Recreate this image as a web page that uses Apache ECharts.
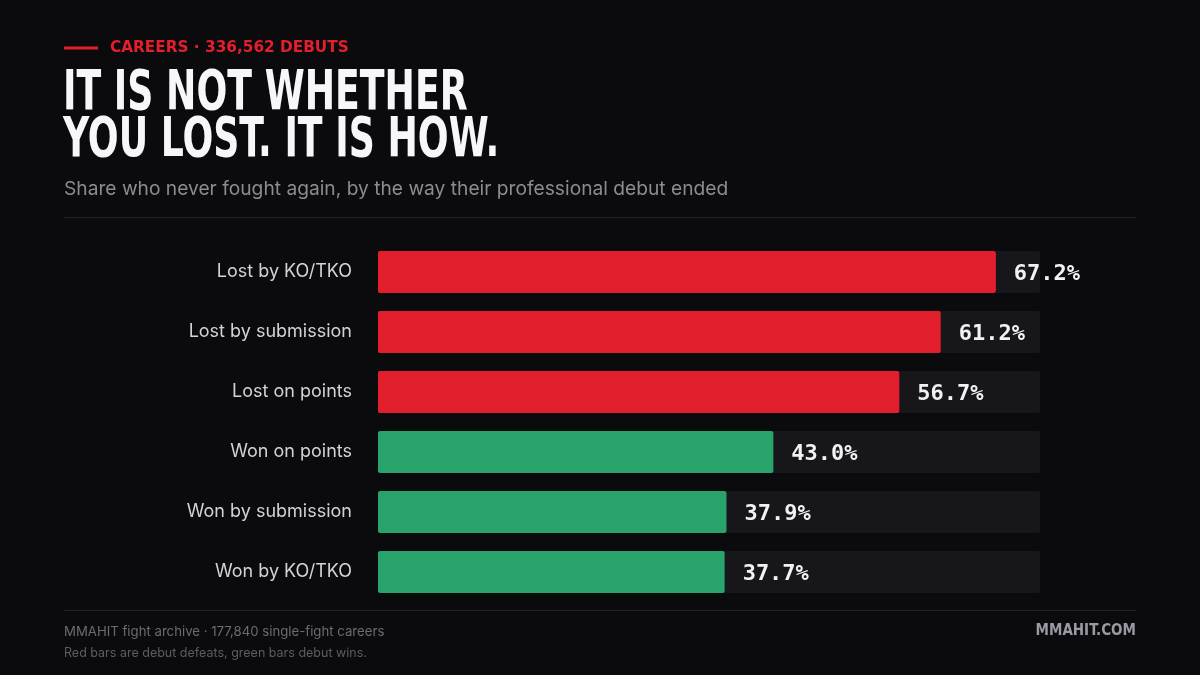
<!DOCTYPE html>
<html>
<head>
<meta charset="utf-8">
<script src="https://cdn.jsdelivr.net/npm/echarts@6/dist/echarts.min.js"></script>
<style>
html,body{margin:0;padding:0;background:#0b0b0e;}
#chart{width:1200px;height:675px;}
</style>
</head>
<body>
<div id="chart"></div>
<script>
const categories = ['Lost by KO/TKO','Lost by submission','Lost on points','Won on points','Won by submission','Won by KO/TKO'];
const values = [67.2, 61.2, 56.7, 43.0, 37.9, 37.7];
const outcome = ['loss','loss','loss','win','win','win'];
const axisMax = 72;

const RED = '#e31e2d', GREEN = '#27a36b';

const chart = echarts.init(document.getElementById('chart'), null, {renderer:'canvas'});
const titleFont = '"DejaVu Sans Condensed",sans-serif';
chart.setOption({
  backgroundColor:'#0b0b0e',
  animation:false,
  grid:{left:378, right:160, top:242, height:360, containLabel:false},
  xAxis:{type:'value', min:0, max:axisMax, show:false},
  yAxis:{type:'category', data:categories, inverse:true,
    axisLine:{show:false}, axisTick:{show:false},
    axisLabel:{margin:26, color:'#d2d2d8', fontFamily:'Inter', fontSize:18, padding:[3,0,0,0]}},
  series:[{
    type:'bar',
    data:values.map((v,i)=>({value:v, itemStyle:{color: outcome[i]==='loss'?RED:GREEN}})),
    barCategoryGap:'30%',
    showBackground:true,
    backgroundStyle:{color:'#16161b', borderRadius:2},
    itemStyle:{borderRadius:2},
    label:{show:true, position:'right', distance:18, offset:[0,2], color:'#f2f2f4',
      fontFamily:'"DejaVu Sans Mono",monospace', fontWeight:'bold', fontSize:22,
      formatter:p=>p.value.toFixed(1)+'%'}
  }],
  graphic:[
    {type:'rect', shape:{x:64,y:46.5,width:34,height:3}, style:{fill:RED}},
    {type:'text', x:110, y:48, style:{text:'CAREERS · 336,562 DEBUTS', fill:RED,
      font:'bold 15.3px "DejaVu Sans",sans-serif', verticalAlign:'middle'}},
    {type:'text', x:63, y:94, scaleX:0.72, style:{text:'IT IS NOT WHETHER', fill:'#f7f7f9',
      font:'bold 56px '+titleFont, verticalAlign:'middle'}},
    {type:'text', x:63, y:141, scaleX:0.72, style:{text:'YOU LOST. IT IS HOW.', fill:'#f7f7f9',
      font:'bold 56px '+titleFont, verticalAlign:'middle'}},
    {type:'text', x:64, y:189, style:{text:'Share who never fought again, by the way their professional debut ended', fill:'#8b8b93',
      font:'19.2px Inter,sans-serif', verticalAlign:'middle'}},
    {type:'rect', shape:{x:64,y:217,width:1072,height:1}, style:{fill:'#222228'}},
    {type:'rect', shape:{x:64,y:610,width:1072,height:1}, style:{fill:'#222228'}},
    {type:'text', x:64, y:632, style:{text:'MMAHIT fight archive · 177,840 single-fight careers', fill:'#6b6b73',
      font:'13.2px Inter,sans-serif', verticalAlign:'middle'}},
    {type:'text', x:64, y:653, style:{text:'Red bars are debut defeats, green bars debut wins.', fill:'#5c5c64',
      font:'12.5px Inter,sans-serif', verticalAlign:'middle'}},
    {type:'text', x:1136, y:631, style:{text:'MMAHIT.COM', fill:'#9a9aa2', align:'right',
      font:'bold 15px "DejaVu Sans Condensed",sans-serif', verticalAlign:'middle'}}
  ]
});
</script>
</body>
</html>
